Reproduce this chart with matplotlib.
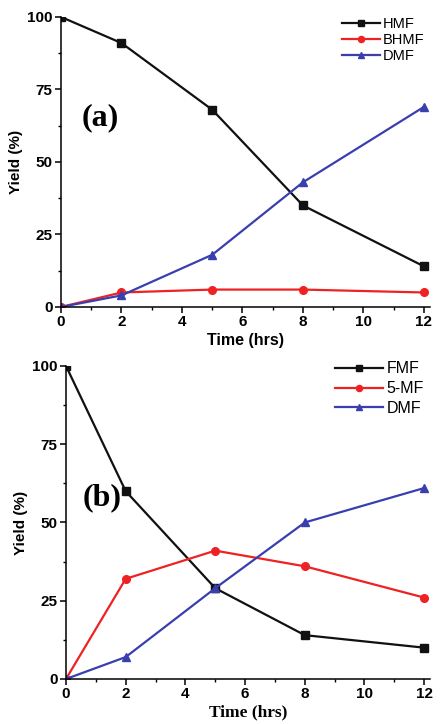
import matplotlib
matplotlib.use("Agg")
import matplotlib.pyplot as plt
from matplotlib.ticker import MultipleLocator

time_hrs = [0, 2, 5, 8, 12]

# panel (a)
hmf = [100, 91, 68, 35, 14]
bhmf = [0, 5, 6, 6, 5]
dmf_a = [0, 4, 18, 43, 69]

# panel (b)
fmf = [100, 60, 29, 14, 10]
mf5 = [0, 32, 41, 36, 26]
dmf_b = [0, 7, 29, 50, 61]

BLACK = "#111111"
RED = "#ee2222"
BLUE = "#3a3fae"
SANS = ["Liberation Sans", "DejaVu Sans"]
SERIF = ["Liberation Serif", "DejaVu Serif"]

plt.rcParams["font.family"] = SANS

fig = plt.figure(figsize=(4.43, 7.24), dpi=100)
ax1 = fig.add_axes([0.1377, 0.576, 0.833, 0.4006])
ax2 = fig.add_axes([0.149, 0.0622, 0.822, 0.4323])


def style(ax, xlabel_family, xlabel_size, xlabel_pad):
    ax.set_xlim(0, 12.2)
    ax.set_ylim(0, 100)
    ax.spines["top"].set_visible(False)
    ax.spines["right"].set_visible(False)
    for s in ("left", "bottom"):
        ax.spines[s].set_linewidth(1.1)
    ax.xaxis.set_major_locator(MultipleLocator(2))
    ax.xaxis.set_minor_locator(MultipleLocator(1))
    ax.yaxis.set_major_locator(MultipleLocator(25))
    ax.yaxis.set_minor_locator(MultipleLocator(12.5))
    ax.tick_params(which="major", length=4, width=1.1, labelsize=11, pad=2)
    ax.tick_params(which="minor", length=2.5, width=1.0)
    for lab in ax.get_xticklabels() + ax.get_yticklabels():
        lab.set_fontweight("bold")
    ax.set_ylabel("Yield (%)", fontsize=11, fontweight="bold", labelpad=3)
    ax.set_xlabel("Time (hrs)", fontsize=xlabel_size, fontweight="bold",
                  family=xlabel_family, labelpad=xlabel_pad)


kw = dict(lw=1.6, ms=5.5)
ax1.plot(time_hrs, hmf, color=BLACK, marker="s", label="HMF", **kw)
ax1.plot(time_hrs, bhmf, color=RED, marker="o", label="BHMF", **kw)
ax1.plot(time_hrs, dmf_a, color=BLUE, marker="^", label="DMF", **kw)
style(ax1, SANS, 11.5, 3)
ax1.legend(loc="upper right", frameon=False, fontsize=10.5, handlelength=2.6,
           handletextpad=0.2, labelspacing=0.15, borderaxespad=0.0,
           bbox_to_anchor=(1.0, 1.02), markerscale=0.8)
ax1.text(0.055, 0.652, "(a)", transform=ax1.transAxes, fontsize=23,
         fontweight="bold", family=SERIF, va="center")

ax2.plot(time_hrs, fmf, color=BLACK, marker="s", label="FMF", **kw)
ax2.plot(time_hrs, mf5, color=RED, marker="o", label="5-MF", **kw)
ax2.plot(time_hrs, dmf_b, color=BLUE, marker="^", label="DMF", **kw)
style(ax2, SERIF, 12.5, 2)
ax2.legend(loc="upper right", frameon=False, fontsize=11.5, handlelength=3.0,
           handletextpad=0.2, labelspacing=0.3, borderaxespad=0.0,
           bbox_to_anchor=(1.0, 1.035), markerscale=0.8)
ax2.text(0.045, 0.58, "(b)", transform=ax2.transAxes, fontsize=23,
         fontweight="bold", family=SERIF, va="center")

fig.savefig("out.png", dpi=100)
